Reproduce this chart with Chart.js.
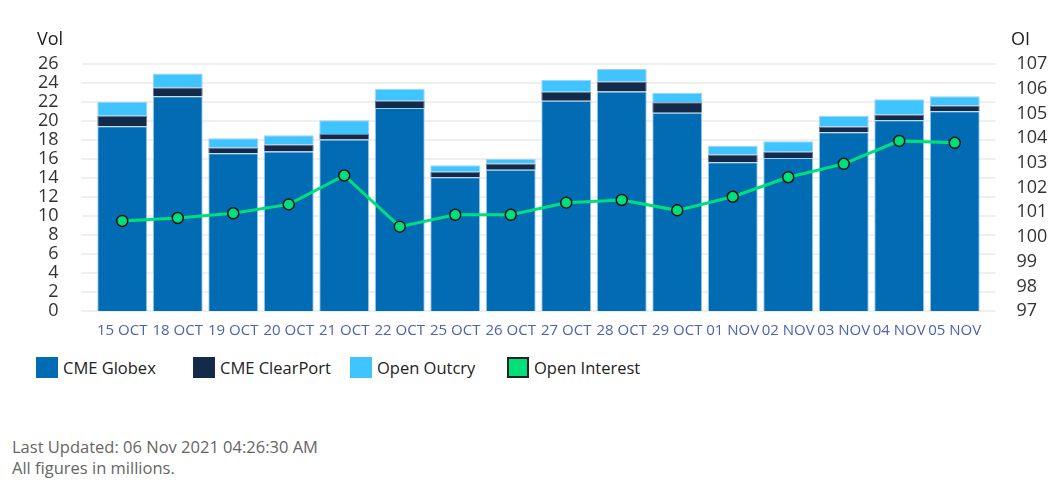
<!DOCTYPE html>
<html>
<head>
<meta charset="utf-8">
<script src="https://cdn.jsdelivr.net/npm/chart.js@4.4.1/dist/chart.umd.min.js"></script>
<style>
  html, body { margin: 0; padding: 0; background: #fff; font-family: 'Open Sans', sans-serif; }
  #wrap { position: relative; width: 1057px; height: 483px; overflow: hidden; }
  #volChart { position: absolute; left: 0; top: 0; }
  #legend { position: absolute; left: 0; top: 356px; height: 22px; }
  .item { position: absolute; top: 0; display: flex; align-items: center; font-size: 16.5px; color: #222; white-space: nowrap; }
  .swatch { width: 22px; height: 21px; margin-right: 5px; box-sizing: border-box; }
  #foot { position: absolute; left: 12px; top: 436px; font-size: 16.5px; color: #666; line-height: 21px; }
</style>
</head>
<body>
<div id="wrap">
  <canvas id="volChart" width="1057" height="350"></canvas>
  <div id="legend"></div>
  <div id="foot">Last Updated: 06 Nov 2021 04:26:30 AM<br>All figures in millions.</div>
</div>
<script>
const days = ['15 OCT', '18 OCT', '19 OCT', '20 OCT', '21 OCT', '22 OCT', '25 OCT', '26 OCT',
  '27 OCT', '28 OCT', '29 OCT', '01 NOV', '02 NOV', '03 NOV', '04 NOV', '05 NOV'];
const globex    = [19.46, 22.62, 16.62, 16.79, 18.05, 21.36, 14.09, 14.89, 22.13, 23.12, 20.87, 15.67, 16.12, 18.83, 20.09, 21.04];
const clearPort = [1.09, 0.91, 0.59, 0.74, 0.60, 0.77, 0.59, 0.64, 0.95, 1.05, 1.12, 0.80, 0.64, 0.59, 0.60, 0.60];
const outcry    = [1.47, 1.48, 0.99, 0.98, 1.44, 1.27, 0.67, 0.49, 1.26, 1.30, 0.98, 0.92, 1.12, 1.13, 1.61, 0.98];
const openInt   = [100.65, 100.77, 100.96, 101.32, 102.49, 100.42, 100.90, 100.90, 101.39, 101.50, 101.08, 101.63, 102.42, 102.96, 103.89, 103.81];
const volTicks = { min: 0, max: 26, step: 2 };
const oiTicks = { min: 97, max: 107, step: 1 };

const C = { globex: '#016cb4', clear: '#132a4a', outcry: '#3fc4ff', oi: '#00e07a' };
const FONT = "'Open Sans', sans-serif";

// grid lines run a little past the bars on both sides, like the original
const gridPlugin = {
  id: 'wideGrid',
  beforeDatasetsDraw(chart) {
    const { ctx, chartArea, scales } = chart;
    ctx.save();
    ctx.strokeStyle = '#efefef';
    ctx.lineWidth = 2;
    scales.y.ticks.forEach(t => {
      const y = Math.round(scales.y.getPixelForValue(t.value));
      ctx.beginPath();
      ctx.moveTo(chartArea.left - 13, y);
      ctx.lineTo(chartArea.right + 13, y);
      ctx.stroke();
    });
    ctx.restore();
  }
};

// "Vol" and "OI" sit above the two value axes
const axisTitlePlugin = {
  id: 'axisTitles',
  afterDraw(chart) {
    const { ctx } = chart;
    ctx.save();
    ctx.font = '18px ' + FONT;
    ctx.fillStyle = '#222';
    ctx.textBaseline = 'middle';
    ctx.textAlign = 'left';
    ctx.fillText('Vol', 37, 40);
    ctx.fillText('OI', 1011, 40);
    ctx.restore();
  }
};

const barBase = { borderWidth: { left: 1, right: 1, top: 1 }, borderColor: 'rgba(150,205,240,0.9)', borderSkipped: 'bottom',
  categoryPercentage: 0.9, barPercentage: 1, stack: 'vol', yAxisID: 'y', order: 1 };

new Chart(document.getElementById('volChart'), {
  type: 'bar',
  data: {
    labels: days,
    datasets: [
      { ...barBase, label: 'CME Globex', data: globex, backgroundColor: C.globex },
      { ...barBase, label: 'CME ClearPort', data: clearPort, backgroundColor: C.clear, borderColor: 'rgba(90,110,140,0.9)' },
      { ...barBase, label: 'Open Outcry', data: outcry, backgroundColor: C.outcry },
      { type: 'line', label: 'Open Interest', data: openInt, yAxisID: 'y1', order: 0,
        borderColor: C.oi, borderWidth: 3, tension: 0, pointRadius: 5.5, pointBackgroundColor: C.oi,
        pointBorderColor: '#111', pointBorderWidth: 1.5 }
    ]
  },
  options: {
    responsive: false, animation: false, devicePixelRatio: 1,
    layout: { padding: { top: 64, left: 0, right: 0, bottom: 0 } },
    plugins: { legend: { display: false }, tooltip: { enabled: false } },
    scales: {
      x: {
        stacked: true, grid: { display: false }, border: { display: false },
        ticks: { autoSkip: false, maxRotation: 0, padding: 3, color: '#4d62b0', font: { family: FONT, size: 15 } },
        afterFit(s) { s.height = 35; }
      },
      y: {
        stacked: true, position: 'left', min: volTicks.min, max: volTicks.max,
        grid: { display: false }, border: { display: false },
        ticks: { autoSkip: false, stepSize: volTicks.step, padding: 28, color: '#333', font: { family: FONT, size: 18 } },
        afterFit(s) { s.width = 94.5; }
      },
      y1: {
        position: 'right', min: oiTicks.min, max: oiTicks.max,
        grid: { display: false }, border: { display: false },
        ticks: { autoSkip: false, stepSize: oiTicks.step, padding: 26, color: '#333', font: { family: FONT, size: 18 } },
        afterFit(s) { s.width = 74.5; }
      }
    }
  },
  plugins: [gridPlugin, axisTitlePlugin]
});

// legend with evenly spaced entries
const legendItems = [
  { name: 'CME Globex', fill: C.globex, border: 'none' },
  { name: 'CME ClearPort', fill: C.clear, border: 'none' },
  { name: 'Open Outcry', fill: C.outcry, border: 'none' },
  { name: 'Open Interest', fill: C.oi, border: '2px solid #222' }
];
const legendEl = document.getElementById('legend');
legendItems.forEach((it, i) => {
  const div = document.createElement('div');
  div.className = 'item';
  div.style.left = (36 + i * 157) + 'px';
  div.innerHTML = `<span class="swatch" style="background:${it.fill};border:${it.border}"></span>${it.name}`;
  legendEl.appendChild(div);
});
</script>
</body>
</html>
